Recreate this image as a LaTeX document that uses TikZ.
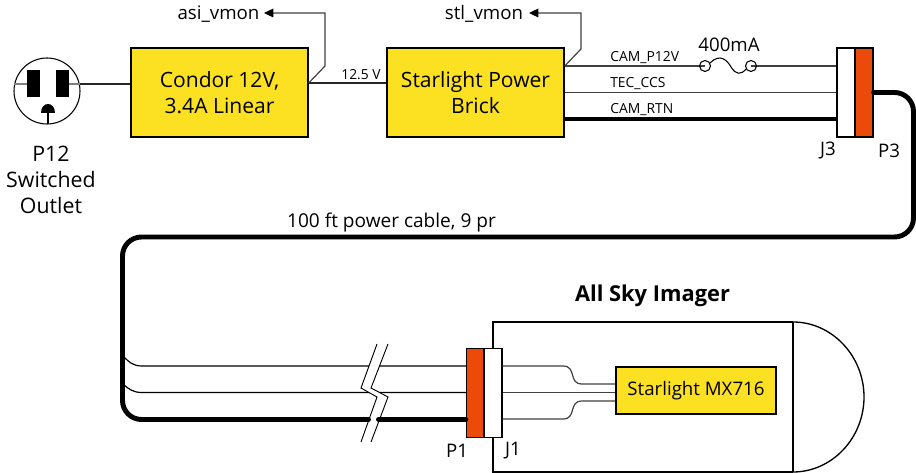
\documentclass[tikz,border=0pt]{standalone}
\usepackage{fontspec}
\setmainfont{Open Sans}
\usetikzlibrary{arrows.meta}
\def\px{0.75pt}
\definecolor{boxyellow}{HTML}{FCE122}
\definecolor{plugorange}{HTML}{EC4A0A}
\definecolor{wiregray}{HTML}{404040}
\tikzset{
  ybox/.style={draw=black,line width=1.1pt,fill=boxyellow,inner sep=0pt,align=center,font=\fontsize{15.8}{19.5}\selectfont},
  conn/.style={draw=black,line width=1pt,inner sep=0pt,minimum width=18*\px,minimum height=89*\px},
  wire/.style={draw=wiregray,line width=0.9pt},
  heavy/.style={draw=black,line width=3.7pt,line cap=round},
  body/.style={draw=black,line width=1pt},
  mon/.style={draw=wiregray,line width=0.9pt,-{Triangle[length=7pt,width=6.5pt,black]}},
  big/.style={inner sep=0pt,font=\fontsize{14}{19.5}\selectfont},
  small/.style={inner sep=0pt,font=\fontsize{10.4}{12}\selectfont,anchor=west},
}
\begin{document}
\begin{tikzpicture}[x=\px,y=-\px]
\useasboundingbox (0,0) rectangle (916,473);
% enclosure
\draw[body,fill=white] (793,322) -- (493,322) -- (493,472) -- (793,472);
\draw[body] (793,322) -- (793,472);
\draw[body] (793,322) .. controls (832,322) and (864,356) .. (864,397) .. controls (864,438) and (832,472) .. (793,472);
% boxes
\node[ybox,minimum width=177*\px,minimum height=89*\px] (condor) at (219.5,92.5) {Condor 12V,\\3.4A Linear};
\node[ybox,minimum width=177*\px,minimum height=89*\px] (brick) at (475.5,92.5) {Starlight Power\\Brick};
\node[ybox,line width=1pt,minimum width=160*\px,minimum height=47*\px,font=\fontsize{14}{16}\selectfont] (cam) at (696,390.5) {Starlight MX716};
\node[conn,fill=white] (j3) at (846,92.5) {};
\node[conn,fill=plugorange] (p3) at (864,92.5) {};
\node[conn,fill=plugorange] (p1) at (475.5,393) {};
\node[conn,fill=white] (j1) at (493,393) {};
% outlet
\node[draw=black,line width=0.8pt,circle,minimum size=66*\px,inner sep=0pt] (outlet) at (47,91) {};
\coordinate (ol) at (14,84);
\coordinate (or) at (80,84);
\draw[draw=gray,line width=1.1pt] (ol) -- (27,84) (69,84) -- (or);
\fill[black] (27,70) rectangle (40,97);
\fill[black] (56,70) rectangle (69,97);
\fill[black] (41,113) .. controls (41,101) and (55,101) .. (55,113) -- cycle;
\draw[black,line width=0.8pt] (48,113) -- (48,124);
\draw[line width=1.1pt,draw=black!85] (or) -- (condor.west |- or);
% DC link
\coordinate (ca) at (condor.east |- 0,83);
\coordinate (ba) at (brick.west |- 0,83);
\draw[line width=1.1pt,draw=black!85] (ca) -- (ba);
\node[small,anchor=center] (v125) at (361,74.5) {12.5 V};
% monitors
\coordinate (bb) at (brick.east |- 0,66);
\node[big] (asi) at (218.5,14) {asi\_vmon};
\node[big] (stl) at (484,14) {stl\_vmon};
\draw[mon] (ca) -- (325,66) -- (325,13) -- (264,13);
\draw[mon] (bb) -- (581,49) -- (581,13) -- (529,13);
% power wires
\coordinate (fa) at (705,66);
\coordinate (fb) at (751,66);
\draw[wire] (bb) -- (fa);
\draw[wire] (fb) -- (j3.west |- fb);
\draw[line width=0.8pt] (fa) circle (5.5*\px) (fb) circle (5.5*\px);
\draw[line width=0.8pt] (710,63) .. controls (720,53) and (727,60) .. (731,67) .. controls (736,75) and (741,75) .. (746,69);
\draw[wire] (brick.east) -- (j3.west);
\draw[draw=black,line width=2.4pt] (brick.east |- 0,119) -- (j3.west |- 0,119);
\node[small] (l1) at (610,58) {CAM\_P12V};
\node[small] (l2) at (610,84) {TEC\_CCS};
\node[small] (l3) at (610,109.5) {CAM\_RTN};
\node[big] (f) at (729,45) {400mA};
% cable
\draw[heavy,rounded corners=19*\px] (p3.east) -- (913.5,92.5) -- (913.5,237) -- (122.5,237) -- (122.5,419.5) -- (p1.west |- 0,419.5);
\draw[draw=black,line width=0.9pt] (124,357) .. controls (129,362) and (133,366) .. (142,366) -- (p1.west |- 0,366);
\draw[draw=black,line width=0.9pt] (124,385) .. controls (129,389) and (133,392.5) .. (142,392.5) -- (p1.west |- 0,392.5);
% break
\fill[white] (377,344) -- (361,388) -- (377,397) -- (361,442) -- (371,442) -- (388,397) -- (371,388) -- (388,344) -- cycle;
\draw[black,line width=0.7pt] (377,344) -- (361,388) -- (377,397) -- (361,442);
\draw[black,line width=0.7pt] (388,344) -- (371,388) -- (388,397) -- (371,442);
\draw[heavy] (366,419.5) -- (368.5,419.5) (378.5,419.5) -- (381,419.5);
% camera wires
\draw[wire] (j1.east |- 0,366) -- (563,366) .. controls (577,366) and (568,384) .. (582,384) -- (cam.west |- 0,384);
\draw[wire] (j1.east |- 0,392.6) -- (cam.west |- 0,392.6);
\draw[wire] (j1.east |- 0,419) -- (563,419) .. controls (577,419) and (568,401) .. (582,401) -- (cam.west |- 0,401);
% labels
\node[big,align=center,font=\fontsize{16}{19.5}\selectfont] (o) at (51,180) {P12\\Switched\\Outlet};
\node[big] (j3l) at (828,151) {J3};
\node[big] (p3l) at (889,151) {P3};
\node[big] (p1l) at (457,451) {P1};
\node[big] (j1l) at (513,451) {J1};
\node[big,font=\fontsize{14.3}{17}\selectfont] (cl) at (391.5,222) {100 ft power cable, 9 pr};
\node[big,font=\fontsize{16.4}{19}\selectfont\bfseries] (asl) at (652.5,296) {All Sky Imager};
\end{tikzpicture}
\end{document}
